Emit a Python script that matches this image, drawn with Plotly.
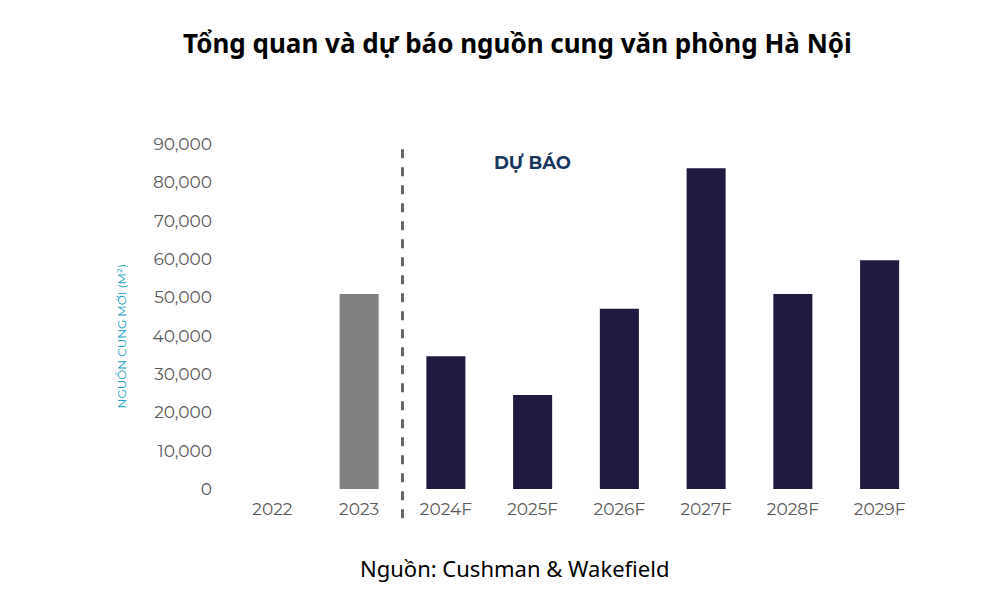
import plotly.graph_objects as go

years = ["2022", "2023", "2024F", "2025F", "2026F", "2027F", "2028F", "2029F"]
supply = [0, 50900, 34600, 24500, 47000, 83700, 50900, 59700]
bar_colors = ["#7e8180", "#7e8180", "#1e1a40", "#1e1a40", "#1e1a40", "#1e1a40", "#1e1a40", "#1e1a40"]
tick_vals = [0, 10000, 20000, 30000, 40000, 50000, 60000, 70000, 80000, 90000]

fig = go.Figure()
fig.add_trace(go.Bar(
    x=years, y=supply,
    marker=dict(color=bar_colors, line=dict(width=0)),
    width=0.45,
    hoverinfo="x+y",
))

axis_font = dict(family="Montserrat, Lato, sans-serif", size=17, color="#5a5a5a")

# page body has an 8px offset, so margins are trimmed by 8 on top/left
fig.update_layout(
    width=989, height=589,
    margin=dict(l=221, r=74, t=136, b=108),
    paper_bgcolor="white", plot_bgcolor="white",
    showlegend=False,
    xaxis=dict(
        type="category", showgrid=False, showline=False, zeroline=False,
        ticks="", tickfont=axis_font, ticklabelstandoff=8,
    ),
    yaxis=dict(
        range=[0, 90000], tickvals=tick_vals, tickformat=",",
        showgrid=False, showline=False, zeroline=False,
        ticks="", tickfont=axis_font, ticklabelstandoff=16,
    ),
    shapes=[dict(
        type="line", xref="x", yref="paper",
        x0=1.5, x1=1.5, y0=-0.085, y1=0.997,
        line=dict(color="#666666", width=3, dash="dash"),
    )],
    annotations=[
        dict(text="<b>Tổng quan và dự báo nguồn cung văn phòng Hà Nội</b>",
             xref="paper", yref="paper", x=0.415, y=1.293, xanchor="center", yanchor="middle",
             showarrow=False, font=dict(family="Noto Sans", size=26, color="#000000")),
        dict(text="<b>DỰ BÁO</b>", xref="x", yref="y", x=3, y=85000,
             showarrow=False, font=dict(family="Montserrat, Lato, sans-serif", size=18, color="#17365d")),
        dict(text="NGUỒN CUNG MỚI (M²)", xref="paper", yref="paper",
             x=-0.169, y=0.443, textangle=-90, showarrow=False,
             font=dict(family="Montserrat, Lato, sans-serif", size=12, color="#1aa3c4")),
        dict(text="Nguồn: Cushman & Wakefield", xref="paper", yref="paper",
             x=0.411, y=-0.229, xanchor="center", yanchor="middle", showarrow=False,
             font=dict(family="Noto Sans", size=22, color="#000000")),
    ],
)

fig.write_html("out.html")
